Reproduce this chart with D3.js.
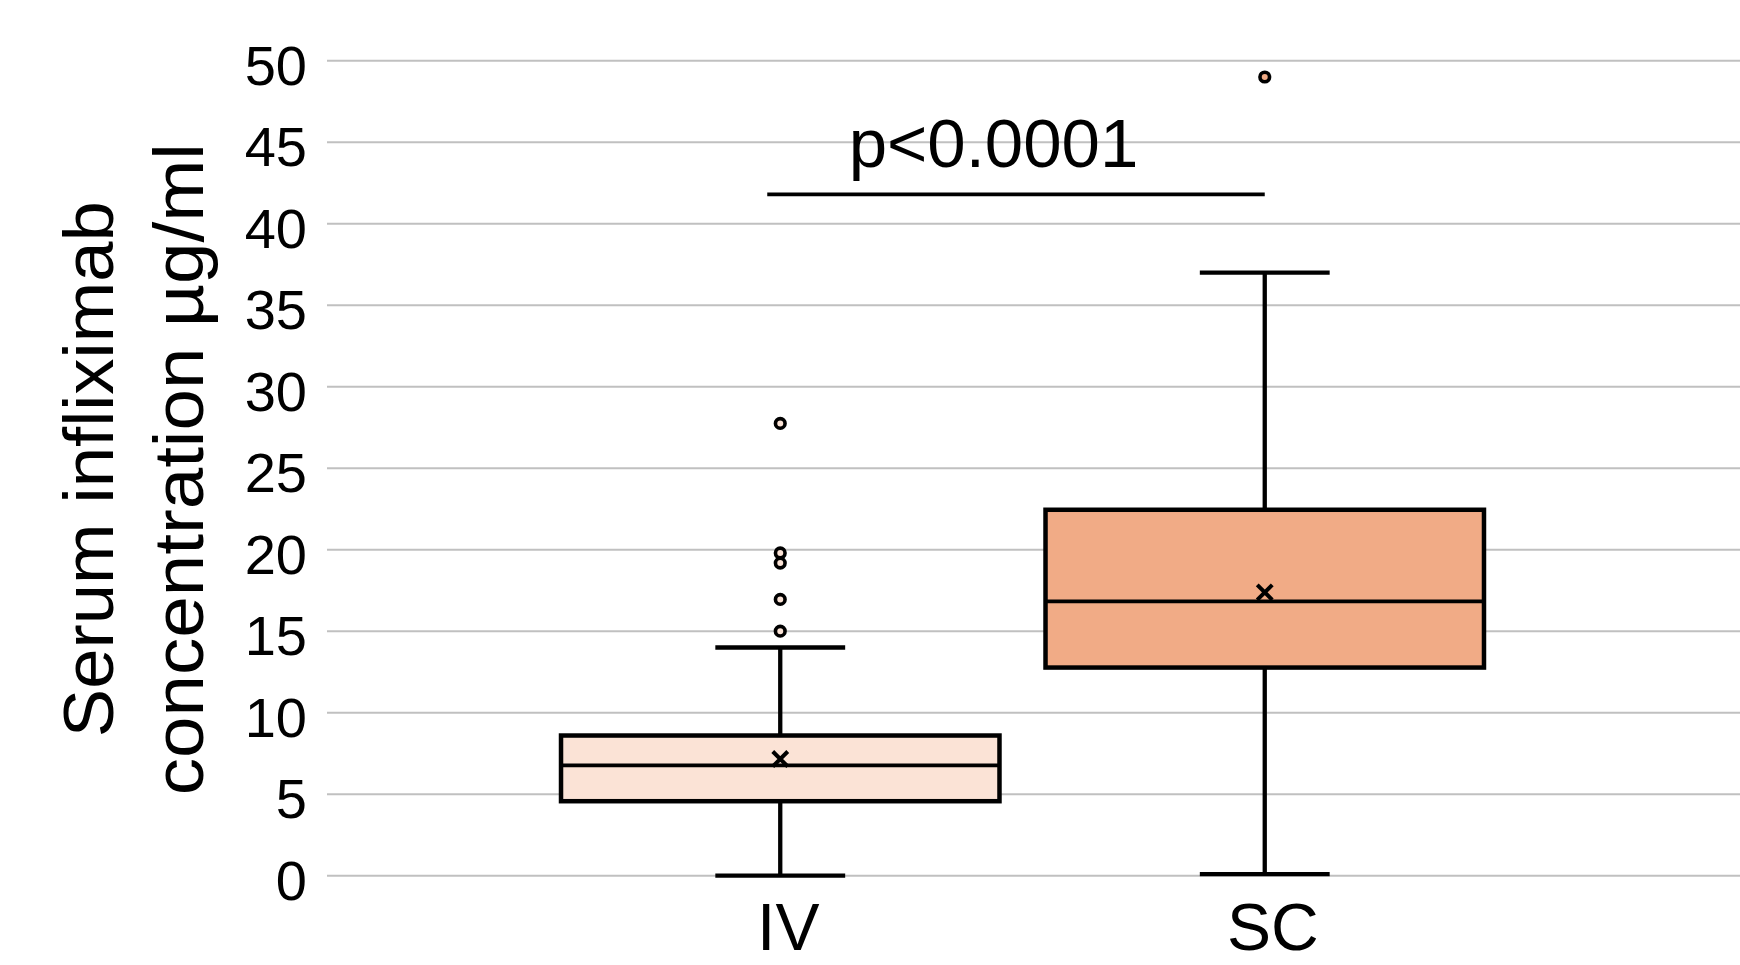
<!DOCTYPE html>
<html>
<head>
<meta charset="utf-8">
<script src="https://cdn.jsdelivr.net/npm/d3@7"></script>
<style>
  html, body { margin: 0; padding: 0; background: #ffffff; }
  svg { display: block; font-family: "Liberation Sans", Arial, Helvetica, sans-serif; }
</style>
</head>
<body>
<svg id="chart" width="1740" height="965"></svg>
<script>
// ---- data ----
const categories = ["IV", "SC"];
const q1Values = [4.57, 12.77];
const medianValues = [6.77, 16.83];
const q3Values = [8.6, 22.45];
const whiskerLow = [0, 0.1];
const whiskerHigh = [14.0, 37.0];
const meanValues = [7.16, 17.38];
const outliersIV = [27.75, 19.8, 19.18, 16.95, 15.0];
const outliersSC = [49.0];
const yTicks = [0, 5, 10, 15, 20, 25, 30, 35, 40, 45, 50];
const pLabel = "p<0.0001";
const pBarValue = 41.8;
const yTitleLines = ["Serum infliximab", "concentration \u00b5g/ml"];
const fillColors = ["#fbe3d6", "#f1ab86"];

// ---- layout ----
const svg = d3.select("#chart");
const gridLeft = 327, gridRight = 1740;

const y = d3.scaleLinear().domain([0, 50]).range([875.7, 60.7]);
const x = d3.scaleBand().domain(categories).range([538, 1507]).padding(0);
const bw = x.bandwidth();
const cx = c => x(c) + bw / 2;
const boxW = bw * 0.905;
const capW = bw * 0.268;

// gridlines
svg.append("g").selectAll("line").data(yTicks).join("line")
  .attr("x1", gridLeft).attr("x2", gridRight)
  .attr("y1", d => y(d)).attr("y2", d => y(d))
  .attr("stroke", "#c0c0c0").attr("stroke-width", 2);

// y tick labels
svg.append("g").selectAll("text").data(yTicks).join("text")
  .attr("x", 307).attr("y", d => y(d) + 24)
  .attr("text-anchor", "end")
  .attr("font-size", 56).attr("fill", "#000")
  .text(d => d);

// y title (two lines, rotated)
const titleCY = (y(0) + y(50)) / 2 + 1;
const titleBaselines = [112.7, 203.3];
const titleLengths = [536, 652];
yTitleLines.forEach((t, i) => {
  svg.append("text")
    .attr("x", titleBaselines[i]).attr("y", titleCY)
    .attr("transform", `rotate(-90, ${titleBaselines[i]}, ${titleCY})`)
    .attr("text-anchor", "middle")
    .attr("font-size", 70)
    .attr("textLength", titleLengths[i])
    .attr("lengthAdjust", "spacingAndGlyphs")
    .attr("fill", "#000")
    .text(t);
});

// box plots
const boxes = categories.map((c, i) => ({
  c, q1: q1Values[i], med: medianValues[i], q3: q3Values[i],
  lo: whiskerLow[i], hi: whiskerHigh[i], mean: meanValues[i], fill: fillColors[i],
  outliers: i === 0 ? outliersIV : outliersSC
}));

const g = svg.append("g");
boxes.forEach(b => {
  const xc = cx(b.c);
  g.append("line").attr("x1", xc).attr("x2", xc).attr("y1", y(b.q3)).attr("y2", y(b.hi))
    .attr("stroke", "#000").attr("stroke-width", 4.3);
  g.append("line").attr("x1", xc).attr("x2", xc).attr("y1", y(b.q1)).attr("y2", y(b.lo))
    .attr("stroke", "#000").attr("stroke-width", 4.3);
  [b.hi, b.lo].forEach(v => {
    g.append("line").attr("x1", xc - capW / 2).attr("x2", xc + capW / 2)
      .attr("y1", y(v)).attr("y2", y(v))
      .attr("stroke", "#000").attr("stroke-width", 4.3);
  });
  g.append("rect").attr("x", xc - boxW / 2).attr("width", boxW)
    .attr("y", y(b.q3)).attr("height", y(b.q1) - y(b.q3))
    .attr("fill", b.fill).attr("stroke", "#000").attr("stroke-width", 4.5);
  g.append("line").attr("x1", xc - boxW / 2).attr("x2", xc + boxW / 2)
    .attr("y1", y(b.med)).attr("y2", y(b.med))
    .attr("stroke", "#000").attr("stroke-width", 3.8);
  const my = y(b.mean), s = 7.5;
  g.append("path")
    .attr("d", `M${xc - s},${my - s}L${xc + s},${my + s}M${xc - s},${my + s}L${xc + s},${my - s}`)
    .attr("stroke", "#000").attr("stroke-width", 4).attr("fill", "none");
  g.selectAll(null).data(b.outliers).join("circle")
    .attr("cx", xc).attr("cy", d => y(d)).attr("r", 4.8)
    .attr("fill", b.fill).attr("stroke", "#000").attr("stroke-width", 3.6);
});

// significance bar
const barY = y(pBarValue);
svg.append("line")
  .attr("x1", cx("IV") - 13).attr("x2", cx("SC"))
  .attr("y1", barY).attr("y2", barY)
  .attr("stroke", "#000").attr("stroke-width", 3.8);
svg.append("text")
  .attr("x", (cx("IV") + cx("SC")) / 2 - 29).attr("y", 166.7)
  .attr("text-anchor", "middle").attr("font-size", 69).attr("fill", "#000")
  .text(pLabel);

// category labels
svg.append("g").selectAll("text").data(categories).join("text")
  .attr("x", d => cx(d) + 8).attr("y", 950)
  .attr("text-anchor", "middle").attr("font-size", 66).attr("fill", "#000")
  .text(d => d);
</script>
</body>
</html>
